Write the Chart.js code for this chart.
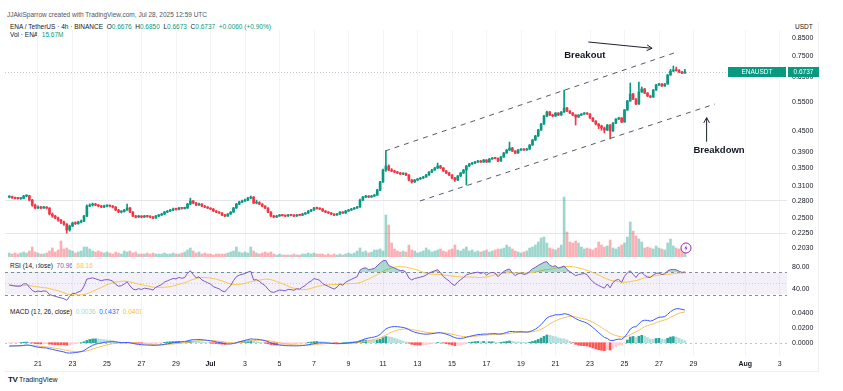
<!DOCTYPE html>
<html>
<head>
<meta charset="utf-8">
<script src="https://cdn.jsdelivr.net/npm/chart.js@4.4.1/dist/chart.umd.min.js"></script>
<style>
    body { margin: 0; background: #fff; width: 843px; height: 391px; overflow: hidden; position: relative;
           font-family: "Liberation Sans", Arial, sans-serif; color: #131722; }
    .pane { position: absolute; left: 0; }
    .txt { position: absolute; white-space: nowrap; font-size: 6.5px; line-height: 8px; }
    .g { color: #089981; }
    .frame { position: absolute; left: 4px; top: 22px; width: 814px; height: 349px;
             border-right: 1px solid #eceef2; border-bottom: 1px solid #eceef2; }
</style>
</head>
<body>
<div class="frame"></div>
<div class="txt" style="left:7px;top:11px;color:#50535e;">JJAkiSparrow created with TradingView.com, Jul 28, 2025 12:59 UTC</div>
<div class="txt" style="left:10px;top:23px;">ENA / TetherUS · 4h · BINANCE&nbsp; O<span class="g">0.6676</span>&nbsp; H<span class="g">0.6850</span>&nbsp; L<span class="g">0.6673</span>&nbsp; C<span class="g">0.6737</span>&nbsp; <span class="g">+0.0060 (+0.90%)</span></div>
<div class="txt" style="left:10px;top:31px;">Vol · ENA&nbsp; <span class="g">15.67M</span></div>
<div class="txt" style="left:795px;top:23px;">USDT</div>
<div class="txt" style="left:10px;top:262px;">RSI (14, close)&nbsp; <span style="color:#7e57c2">70.96</span>&nbsp; <span style="color:#f7c843">68.16</span></div>
<div class="txt" style="left:10px;top:308px;">MACD (12, 26, close)&nbsp; <span style="color:#9fd8d1">0.0036</span>&nbsp; <span style="color:#2962ff">0.0437</span>&nbsp; <span style="color:#f5b942">0.0401</span></div>
<div class="txt" style="left:8px;top:376px;font-size:7px;"><b style="font-size:8px;letter-spacing:-0.5px;">TV</b> TradingView</div>

<canvas id="main" class="pane" width="843" height="227" style="top:30px"></canvas>
<canvas id="rsi" class="pane" width="843" height="46" style="top:258px"></canvas>
<canvas id="macd" class="pane" width="843" height="68" style="top:304px"></canvas>

<svg style="position:absolute;left:680px;top:242px" width="12" height="12">
    <circle cx="6" cy="6" r="5" fill="#fff" stroke="#9c27b0" stroke-width="1"/>
    <path d="M6.8 2.8 L4.4 6.4 L6 6.4 L5.2 9.2 L7.6 5.6 L6 5.6 Z" fill="#9c27b0"/>
</svg>

<script>
// ENA/USDT 4h, first candle Jun 19 08:00 (days counted from Jun 21 00:00)
const startDay = -5 / 3;
const firstOpen = 0.2875;

const closes = [
    .2880,.2865,.2850,.2845,.2850,.2895,.2900,.2817,.2723,.2668,
    .2686,.2668,.2680,.2668,.2561,.2527,.2493,.2459,.2426,.2393,
    .2298,.2361,.2409,.2400,.2426,.2442,.2527,.2704,.2723,.2741,
    .2723,.2704,.2686,.2704,.2710,.2704,.2686,.2632,.2596,.2605,
    .2632,.2668,.2596,.2527,.2510,.2527,.2510,.2527,.2520,.2510,
    .2493,.2527,.2544,.2561,.2596,.2614,.2632,.2650,.2645,.2668,
    .2660,.2668,.2741,.2798,.2760,.2723,.2741,.2704,.2686,.2668,
    .2650,.2614,.2596,.2579,.2544,.2527,.2561,.2596,.2668,.2741,
    .2779,.2798,.2817,.2855,.2875,.2760,.2770,.2741,.2704,.2668,
    .2596,.2527,.2510,.2527,.2544,.2535,.2527,.2544,.2540,.2527,
    .2544,.2540,.2561,.2579,.2614,.2632,.2668,.2660,.2650,.2614,
    .2596,.2579,.2561,.2544,.2561,.2596,.2579,.2614,.2632,.2650,
    .2668,.2686,.2817,.2875,.2894,.2875,.2894,.2914,.3015,.3185,
    .3456,.3551,.3456,.3432,.3409,.3386,.3363,.3375,.3340,.3229,
    .3185,.3229,.3251,.3273,.3295,.3340,.3409,.3456,.3503,.3551,
    .3503,.3432,.3386,.3340,.3273,.3229,.3318,.3386,.3456,.3551,
    .3600,.3624,.3649,.3674,.3649,.3699,.3649,.3724,.3750,.3740,
    .3674,.3775,.3879,.3959,.4013,.3932,.3879,.3959,.3986,.3959,
    .3986,.4096,.4238,.4355,.4536,.4725,.4989,.5127,.5023,.4989,
    .5092,.5023,.5127,.5268,.5162,.5092,.5023,.4955,.5023,.5058,
    .5092,.5058,.4922,.4822,.4725,.4661,.4598,.4536,.4693,.4506,
    .4757,.4888,.4922,.4790,.5197,.5526,.5795,.5601,.5414,.5875,
    .5996,.5835,.5717,.5678,.5955,.6162,.6204,.6120,.6204,.6595,
    .6777,.6823,.6800,.6731,.6676,.6737
];

const highs = [
    .2900,.2895,.2875,.2870,.2865,.2910,.2920,.2910,.2830,.2740,
    .2710,.2700,.2700,.2695,.2675,.2580,.2540,.2510,.2470,.2440,
    .2400,.2375,.2425,.2430,.2440,.2460,.2540,.2725,.2745,.2760,
    .2755,.2735,.2720,.2720,.2725,.2720,.2715,.2695,.2645,.2620,
    .2645,.2741,.2680,.2605,.2540,.2540,.2535,.2540,.2540,.2530,
    .2520,.2540,.2555,.2575,.2610,.2625,.2645,.2665,.2665,.2680,
    .2680,.2685,.2755,.2855,.2810,.2775,.2760,.2750,.2715,.2695,
    .2675,.2660,.2625,.2605,.2585,.2555,.2570,.2605,.2680,.2755,
    .2795,.2815,.2835,.2870,.2895,.2885,.2817,.2785,.2750,.2715,
    .2675,.2605,.2540,.2540,.2555,.2555,.2545,.2555,.2555,.2550,
    .2555,.2558,.2575,.2590,.2625,.2645,.2680,.2685,.2672,.2660,
    .2625,.2605,.2590,.2570,.2572,.2605,.2605,.2625,.2645,.2662,
    .2680,.2700,.2835,.2890,.2910,.2905,.2908,.2930,.3030,.3200,
    .3480,.3932,.3580,.3490,.3450,.3425,.3400,.3390,.3390,.3350,
    .3240,.3240,.3265,.3285,.3310,.3355,.3420,.3470,.3520,.3624,
    .3570,.3515,.3445,.3400,.3350,.3285,.3330,.3400,.3470,.3565,
    .3615,.3640,.3665,.3690,.3690,.3715,.3710,.3740,.3765,.3770,
    .3755,.3790,.3895,.3975,.4180,.4030,.3945,.3975,.4000,.4000,
    .4005,.4110,.4255,.4375,.4560,.4750,.5010,.5160,.5150,.5050,
    .5110,.5105,.5145,.5955,.5290,.5180,.5110,.5040,.5040,.5075,
    .5110,.5110,.5070,.4935,.4835,.4740,.4690,.4625,.4710,.4705,
    .4775,.4905,.4950,.4935,.5220,.5550,.6245,.5820,.5620,.6289,
    .6080,.6020,.5850,.5740,.5975,.6185,.6230,.6225,.6225,.6620,
    .6850,.7012,.6960,.6840,.6760,.6850
];

const lows = [
    .2860,.2850,.2840,.2835,.2830,.2845,.2880,.2800,.2700,.2650,
    .2655,.2650,.2660,.2650,.2545,.2505,.2480,.2440,.2400,.2370,
    .2250,.2280,.2350,.2385,.2390,.2410,.2430,.2515,.2690,.2705,
    .2710,.2690,.2675,.2675,.2690,.2690,.2670,.2620,.2585,.2580,
    .2595,.2625,.2585,.2515,.2495,.2500,.2495,.2500,.2505,.2495,
    .2480,.2485,.2515,.2535,.2550,.2585,.2605,.2620,.2630,.2635,
    .2648,.2650,.2660,.2730,.2745,.2710,.2715,.2690,.2675,.2655,
    .2640,.2605,.2585,.2570,.2535,.2515,.2520,.2555,.2590,.2660,
    .2730,.2765,.2790,.2805,.2845,.2750,.2745,.2730,.2690,.2655,
    .2585,.2515,.2495,.2500,.2520,.2525,.2515,.2520,.2530,.2515,
    .2520,.2530,.2535,.2555,.2570,.2605,.2625,.2648,.2638,.2605,
    .2585,.2570,.2550,.2535,.2538,.2555,.2570,.2572,.2605,.2625,
    .2642,.2660,.2680,.2805,.2865,.2865,.2868,.2885,.2905,.3005,
    .3175,.3420,.3440,.3415,.3390,.3370,.3350,.3345,.3325,.3210,
    .3160,.3175,.3215,.3240,.3260,.3285,.3330,.3395,.3445,.3490,
    .3490,.3420,.3370,.3325,.3255,.3200,.3215,.3305,.3375,.3121,
    .3540,.3590,.3610,.3640,.3635,.3640,.3635,.3640,.3715,.3725,
    .3660,.3665,.3765,.3870,.3945,.3915,.3860,.3870,.3945,.3945,
    .3950,.3975,.4085,.4225,.4340,.4520,.4710,.4970,.5000,.4960,
    .4975,.5000,.5010,.5110,.5140,.5070,.5000,.4693,.4940,.5005,
    .5045,.5040,.4905,.4800,.4700,.4580,.4530,.4445,.4520,.4266,
    .4495,.4740,.4870,.4770,.4780,.5185,.5510,.5580,.5390,.5400,
    .5860,.5810,.5690,.5650,.5665,.5940,.6140,.6100,.6105,.6190,
    .6580,.6750,.6770,.6700,.6650,.6673
];

// volume in millions
const volumes = [
    8,6,8,6,8,10,8,12,20,10,
    8,6,6,8,12,18,10,14,32,16,
    18,14,12,8,10,12,20,20,16,12,
    10,12,10,8,10,8,6,10,8,6,
    12,10,12,8,10,6,6,6,8,6,
    8,6,6,6,8,6,6,8,6,6,
    8,10,14,18,12,8,10,6,8,6,
    6,4,6,6,6,6,8,10,12,20,
    10,8,10,8,20,12,8,6,8,10,
    8,10,6,4,6,4,4,4,4,6,
    4,4,6,6,8,6,8,6,6,6,
    4,6,4,6,4,6,4,6,8,6,
    8,12,18,10,12,8,10,14,14,16,
    12,84,64,28,16,12,10,12,10,24,
    14,12,8,10,12,18,14,10,12,14,
    16,12,10,14,16,24,14,12,16,20,
    12,14,10,12,10,12,14,10,12,14,
    16,16,18,24,20,16,12,10,8,10,
    12,18,20,24,30,38,40,28,18,16,
    14,18,24,120,50,30,28,32,28,20,
    16,18,16,14,18,30,24,20,22,34,
    18,16,20,24,28,40,70,52,42,36,
    30,18,20,18,16,22,18,16,14,28,
    36,22,18,16,18,15.67
];

// x axis: days since Jun 21
const tickDays = [0, 2, 4, 6, 8, 10, 12, 14, 16, 18, 20, 22, 24, 26, 28, 30, 32, 34, 36, 38, 41, 43];
const tickLabels = ['21', '23', '25', '27', '29', 'Jul', '3', '5', '7', '9', '11', '13', '15', '17', '19', '21', '23', '25', '27', '29', 'Aug', '3'];
const priceTicks = [0.203, 0.225, 0.25, 0.28, 0.31, 0.35, 0.39, 0.45, 0.55, 0.65, 0.75, 0.85];
const rsiTicks = [40, 80];
const macdTicks = [0, 0.02, 0.04];
const lastPrice = 0.6737;

// drawn lines in [day, price]
const upperChannel = [[20.12, 0.3933], [36.93, 0.7676]];
const lowerChannel = [[22.14, 0.2799], [39.25, 0.5415]];
const breakoutArrow = [[31.9, 0.8255], [35.6, 0.7909]];
const breakdownArrow = [[38.76, 0.419], [38.76, 0.4933]];
const breakoutText = { text: 'Breakout', day: 31.7, price: 0.7556 };
const breakdownText = { text: 'Breakdown', day: 39.48, price: 0.396 };

// indicator state before the first visible candle
const rsiSeedGain = 0.0030, rsiSeedLoss = 0.0034;
const macdSeedFast = 0.2880, macdSeedSlow = 0.2930, macdSeedSignal = -0.004;

const X_MIN = -1.913, X_MAX = 43.42;
const UP = '#089981', DOWN = '#f23645';

Chart.defaults.font.family = '"Liberation Sans", Arial, sans-serif';
Chart.defaults.color = '#131722';

let opens = closes.map((c, i) => i === 0 ? firstOpen : closes[i - 1]);
let times = closes.map((c, i) => startDay + i / 6);
let isUp = closes.map((c, i) => c >= opens[i]);

// RSI 14 (Wilder) and its SMA 14
let rsi = [];
let ag = rsiSeedGain, al = rsiSeedLoss;
for (let i = 0; i < closes.length; i++) {
    let prev = i === 0 ? firstOpen : closes[i - 1];
    let ch = closes[i] - prev;
    ag = (ag * 13 + Math.max(ch, 0)) / 14;
    al = (al * 13 + Math.max(-ch, 0)) / 14;
    rsi.push(100 - 100 / (1 + ag / al));
}
let rsiMa = rsi.map((v, i) => {
    let from = Math.max(0, i - 13);
    let part = rsi.slice(from, i + 1);
    return part.reduce((a, b) => a + b, 0) / part.length;
});

// MACD 12/26/9
let ema = function (src, len, seed) {
    let k = 2 / (len + 1), prev = seed, out = [];
    for (let v of src) {
        prev = v * k + prev * (1 - k);
        out.push(prev);
    }
    return out;
}
let fast = ema(closes, 12, macdSeedFast);
let slow = ema(closes, 26, macdSeedSlow);
let macd = fast.map((f, i) => f - slow[i]);
let signal = ema(macd, 9, macdSeedSignal);
let hist = macd.map((m, i) => m - signal[i]);
let histColors = hist.map((h, i) => {
    let prev = i ? hist[i - 1] : h;
    if (h >= 0) return h >= prev ? '#26a69a' : '#b2dfdb';
    return h < prev ? '#ff5252' : '#ffcdd2';
});

let xAxis = function (showLabels) {
    return {
        type: 'linear', min: X_MIN, max: X_MAX, offset: false, bounds: 'data',
        grid: { color: '#f3f4f7', drawTicks: false, offset: false },
        border: { display: false },
        afterBuildTicks: s => { s.ticks = tickDays.map(v => ({ value: v })); },
        ticks: {
            display: showLabels, autoSkip: false, maxRotation: 0, padding: 4, color: '#131722',
            font: c => ({ size: 7, weight: (tickLabels[c.index] === 'Jul' || tickLabels[c.index] === 'Aug') ? 'bold' : 'normal' }),
            callback: (v, i) => tickLabels[i]
        },
        afterFit: s => { s.height = showLabels ? 16 : 0; s.paddingLeft = 0; s.paddingRight = 0; }
    };
}

let yRight = function (min, max, ticks, fmt, extra) {
    return Object.assign({
        position: 'right', min: min, max: max, bounds: 'data',
        grid: { display: false, drawTicks: false },
        border: { display: false },
        afterBuildTicks: s => { s.ticks = ticks.map(v => ({ value: v })); },
        ticks: { autoSkip: false, padding: 5, color: '#131722', font: { size: 7 }, callback: fmt },
        afterFit: s => { s.width = 56; s.paddingTop = 0; s.paddingBottom = 0; }
    }, extra || {});
}

let baseOptions = {
    responsive: false, animation: false, devicePixelRatio: 1,
    layout: { padding: { left: 5, right: 0, top: 0, bottom: 0 }, autoPadding: false },
    plugins: { legend: { display: false }, tooltip: { enabled: false } }
};

let seg = function (ctx, x, y, a, b) {
    ctx.beginPath();
    ctx.moveTo(x.getPixelForValue(a[0]), y.getPixelForValue(a[1]));
    ctx.lineTo(x.getPixelForValue(b[0]), y.getPixelForValue(b[1]));
    ctx.stroke();
}

let arrowHead = function (ctx, x, y, a, b) {
    let x1 = x.getPixelForValue(a[0]), y1 = y.getPixelForValue(a[1]);
    let x2 = x.getPixelForValue(b[0]), y2 = y.getPixelForValue(b[1]);
    let ang = Math.atan2(y2 - y1, x2 - x1);
    ctx.beginPath();
    ctx.moveTo(x2 - 6 * Math.cos(ang - 0.5), y2 - 6 * Math.sin(ang - 0.5));
    ctx.lineTo(x2, y2);
    ctx.lineTo(x2 - 6 * Math.cos(ang + 0.5), y2 - 6 * Math.sin(ang + 0.5));
    ctx.stroke();
}

const drawings = {
    id: 'drawings',
    afterDraw(chart) {
        const { ctx, chartArea, scales: { x, y } } = chart;
        ctx.save();
        // last price line
        let py = Math.round(y.getPixelForValue(lastPrice)) + 0.5;
        ctx.strokeStyle = 'rgba(120,130,140,0.45)';
        ctx.setLineDash([1, 2]);
        ctx.lineWidth = 1;
        ctx.beginPath();
        ctx.moveTo(chartArea.left, py);
        ctx.lineTo(chartArea.right, py);
        ctx.stroke();

        // channel
        ctx.strokeStyle = '#555a66';
        ctx.setLineDash([5, 5]);
        seg(ctx, x, y, upperChannel[0], upperChannel[1]);
        seg(ctx, x, y, lowerChannel[0], lowerChannel[1]);

        // arrows
        ctx.setLineDash([]);
        ctx.strokeStyle = '#1e222d';
        seg(ctx, x, y, breakoutArrow[0], breakoutArrow[1]);
        arrowHead(ctx, x, y, breakoutArrow[0], breakoutArrow[1]);
        seg(ctx, x, y, breakdownArrow[0], breakdownArrow[1]);
        arrowHead(ctx, x, y, breakdownArrow[0], breakdownArrow[1]);

        ctx.fillStyle = '#131722';
        ctx.font = 'bold 9.5px "Liberation Sans", Arial, sans-serif';
        ctx.textAlign = 'center';
        ctx.textBaseline = 'middle';
        for (let t of [breakoutText, breakdownText]) {
            ctx.fillText(t.text, x.getPixelForValue(t.day), y.getPixelForValue(t.price));
        }

        // price tags
        ctx.fillStyle = UP;
        ctx.fillRect(chartArea.right - 59, py - 5.5, 58, 10);
        ctx.fillRect(chartArea.right + 1, py - 5.5, 31, 10);
        ctx.fillStyle = '#fff';
        ctx.font = '6.5px "Liberation Sans", Arial, sans-serif';
        ctx.fillText('ENAUSDT', chartArea.right - 30, py);
        ctx.fillText(lastPrice.toFixed(4), chartArea.right + 16.5, py);
        ctx.restore();
    }
};

new Chart(document.getElementById('main'), {
    type: 'bar',
    data: {
        datasets: [
            {
                label: 'Volume', yAxisID: 'yv', order: 3, grouped: false, barThickness: 2,
                data: times.map((t, i) => ({ x: t, y: volumes[i] })),
                backgroundColor: isUp.map(u => u ? 'rgba(8,153,129,0.4)' : 'rgba(242,54,69,0.4)')
            },
            {
                label: 'Wick', yAxisID: 'y', order: 2, grouped: false, barThickness: 1,
                data: times.map((t, i) => ({ x: t, y: [lows[i], highs[i]] })),
                backgroundColor: isUp.map(u => u ? UP : DOWN)
            },
            {
                label: 'Body', yAxisID: 'y', order: 1, grouped: false, barThickness: 2, minBarLength: 1,
                data: times.map((t, i) => ({ x: t, y: [opens[i], closes[i]] })),
                backgroundColor: isUp.map(u => u ? UP : DOWN)
            }
        ]
    },
    options: Object.assign({}, baseOptions, {
        scales: {
            x: xAxis(false),
            y: yRight(0.19122, 0.8957, priceTicks, v => v.toFixed(4), {
                type: 'logarithmic',
                grid: { drawTicks: false, color: c => (c.tick && (c.tick.value === 0.28 || c.tick.value === 0.225)) ? '#e4e6ec' : 'rgba(0,0,0,0)' }
            }),
            yv: { display: false, min: 0, max: 454 }
        }
    }),
    plugins: [drawings]
});

const rsiBand = {
    id: 'rsiBand',
    beforeDatasetsDraw(chart) {
        const { ctx, chartArea, scales: { y } } = chart;
        let top = y.getPixelForValue(70), bottom = y.getPixelForValue(30), mid = y.getPixelForValue(50);
        ctx.save();
        ctx.fillStyle = 'rgba(126,87,194,0.09)';
        ctx.fillRect(chartArea.left, top, chartArea.right - chartArea.left, bottom - top);
        ctx.strokeStyle = '#8a8d98';
        ctx.lineWidth = 1;
        ctx.setLineDash([3, 3]);
        for (let v of [top, bottom]) {
            ctx.beginPath();
            ctx.moveTo(chartArea.left, Math.round(v) + 0.5);
            ctx.lineTo(chartArea.right, Math.round(v) + 0.5);
            ctx.stroke();
        }
        ctx.strokeStyle = 'rgba(138,141,152,0.35)';
        ctx.setLineDash([1, 2]);
        ctx.beginPath();
        ctx.moveTo(chartArea.left, Math.round(mid) + 0.5);
        ctx.lineTo(chartArea.right, Math.round(mid) + 0.5);
        ctx.stroke();
        ctx.restore();
    }
};

new Chart(document.getElementById('rsi'), {
    type: 'line',
    data: {
        datasets: [
            {
                label: 'RSI', data: times.map((t, i) => ({ x: t, y: rsi[i] })),
                borderColor: '#7e57c2', borderWidth: 1, pointRadius: 0, tension: 0,
                fill: { target: { value: 70 }, above: 'rgba(8,153,129,0.35)', below: 'rgba(0,0,0,0)' }
            },
            {
                label: 'RSI MA', data: times.map((t, i) => ({ x: t, y: rsiMa[i] })),
                borderColor: '#f7c843', borderWidth: 1, pointRadius: 0, tension: 0
            }
        ]
    },
    options: Object.assign({}, baseOptions, {
        scales: {
            x: xAxis(false),
            y: yRight(12.73, 96.36, rsiTicks, v => v.toFixed(2), { type: 'linear' })
        }
    }),
    plugins: [rsiBand]
});

const zeroLine = {
    id: 'zeroLine',
    beforeDatasetsDraw(chart) {
        const { ctx, chartArea, scales: { y } } = chart;
        let z = Math.round(y.getPixelForValue(0)) + 0.5;
        ctx.save();
        ctx.strokeStyle = 'rgba(120,123,134,0.45)';
        ctx.setLineDash([2, 3]);
        ctx.beginPath();
        ctx.moveTo(chartArea.left, z);
        ctx.lineTo(chartArea.right, z);
        ctx.stroke();
        ctx.restore();
    }
};

new Chart(document.getElementById('macd'), {
    type: 'bar',
    data: {
        datasets: [
            {
                type: 'line', label: 'MACD', order: 1,
                data: times.map((t, i) => ({ x: t, y: macd[i] })),
                borderColor: '#3d5afe', borderWidth: 1, pointRadius: 0, tension: 0
            },
            {
                type: 'line', label: 'Signal', order: 2,
                data: times.map((t, i) => ({ x: t, y: signal[i] })),
                borderColor: '#f5c15a', borderWidth: 1, pointRadius: 0, tension: 0
            },
            {
                label: 'Histogram', order: 3, grouped: false, barThickness: 2,
                data: times.map((t, i) => ({ x: t, y: hist[i] })),
                backgroundColor: histColors
            }
        ]
    },
    options: Object.assign({}, baseOptions, {
        scales: {
            x: xAxis(true),
            y: yRight(-0.01773, 0.0516, macdTicks, v => v.toFixed(4), { type: 'linear' })
        }
    }),
    plugins: [zeroLine]
});
</script>
</body>
</html>
